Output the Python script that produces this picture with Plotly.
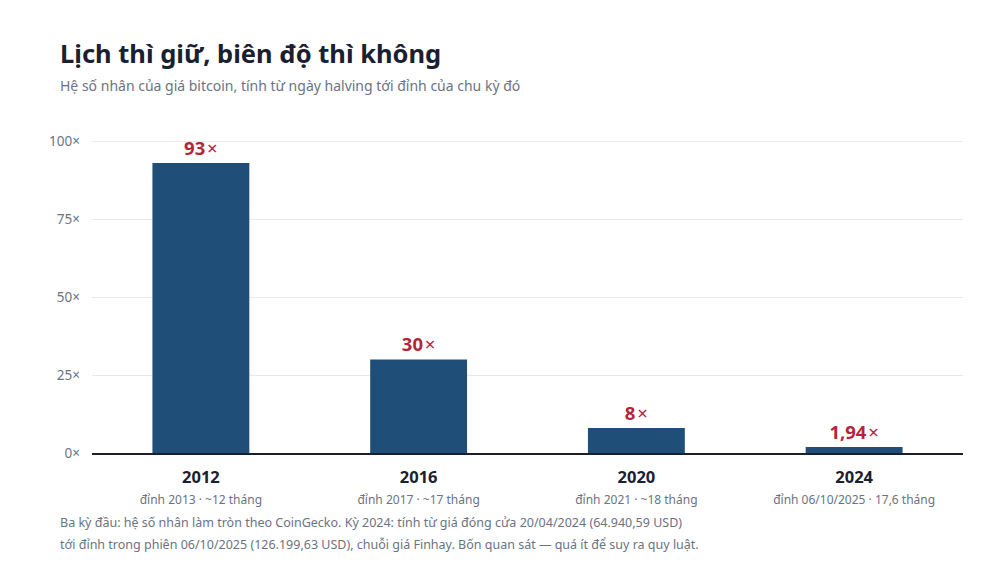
import plotly.graph_objects as go

# du lieu
halving_years = ["2012", "2016", "2020", "2024"]
peak_notes = [
    "đỉnh 2013 · ~12 tháng",
    "đỉnh 2017 · ~17 tháng",
    "đỉnh 2021 · ~18 tháng",
    "đỉnh 06/10/2025 · 17,6 tháng",
]
multipliers = [93, 30, 8, 1.94]
value_labels = ["93", "30", "8", "1,94"]
y_ticks = [0, 25, 50, 75, 100]

FONT = "Noto Sans"
DARK = "#1b2030"
GRAY = "#6b7383"
BAR = "#1f4e79"
RED = "#b3263a"

tick_text = [
    f"<b>{y}</b><br><span style='font-size:12px;color:{GRAY}'>{n}</span>"
    for y, n in zip(halving_years, peak_notes)
]

fig = go.Figure(
    go.Bar(
        x=halving_years,
        y=multipliers,
        text=value_labels,
        textposition="outside",
        textfont=dict(color=RED, size=18.5, family=FONT),
        texttemplate="<b>%{text}</b>\u200a×",
        marker=dict(color=BAR, line=dict(width=0)),
        width=0.445,
        cliponaxis=False,
        hoverinfo="skip",
    )
)

fig.update_layout(
    width=1000,
    height=580,
    paper_bgcolor="white",
    plot_bgcolor="white",
    margin=dict(l=84, r=45, t=127, b=135),
    font=dict(family=FONT, color=DARK),
    showlegend=False,
    title=dict(
        text="<b>Lịch thì giữ, biên độ thì không</b>",
        x=0.052,
        xanchor="left",
        xref="container",
        y=0.92,
        yanchor="middle",
        yref="container",
        font=dict(size=25.5, color=DARK, family=FONT),
    ),
)

fig.update_xaxes(
    tickvals=halving_years,
    ticktext=tick_text,
    tickfont=dict(size=16.5, color=DARK),
    showline=True,
    linecolor=DARK,
    linewidth=2,
    ticks="",
    ticklabelstandoff=8,
    range=[-0.5, 3.5],
)
fig.update_yaxes(
    range=[0, 102],
    tickvals=y_ticks,
    ticktext=[f"{v}×" for v in y_ticks],
    tickfont=dict(size=13.5, color=GRAY),
    gridcolor="#e6e9f0",
    gridwidth=1,
    zeroline=False,
    ticks="",
    ticklabelstandoff=11,
)

# phu de va chu thich
fig.add_annotation(
    text="Hệ số nhân của giá bitcoin, tính từ ngày halving tới đỉnh của chu kỳ đó",
    xref="paper", yref="paper", x=-0.039, y=1.157,
    xanchor="left", yanchor="middle", showarrow=False,
    font=dict(size=14, color=GRAY, family=FONT),
)
footnote_lines = [
    "Ba kỳ đầu: hệ số nhân làm tròn theo CoinGecko. Kỳ 2024: tính từ giá đóng cửa 20/04/2024 (64.940,59 USD)",
    "tới đỉnh trong phiên 06/10/2025 (126.199,63 USD), chuỗi giá Finhay. Bốn quan sát — quá ít để suy ra quy luật.",
]
for line, yy in zip(footnote_lines, [-0.217, -0.289]):
    fig.add_annotation(
        text=line,
        xref="paper", yref="paper", x=-0.039, y=yy,
        xanchor="left", yanchor="middle", align="left", showarrow=False,
        font=dict(size=12.5, color=GRAY, family=FONT),
    )

fig.write_html("out.html")
